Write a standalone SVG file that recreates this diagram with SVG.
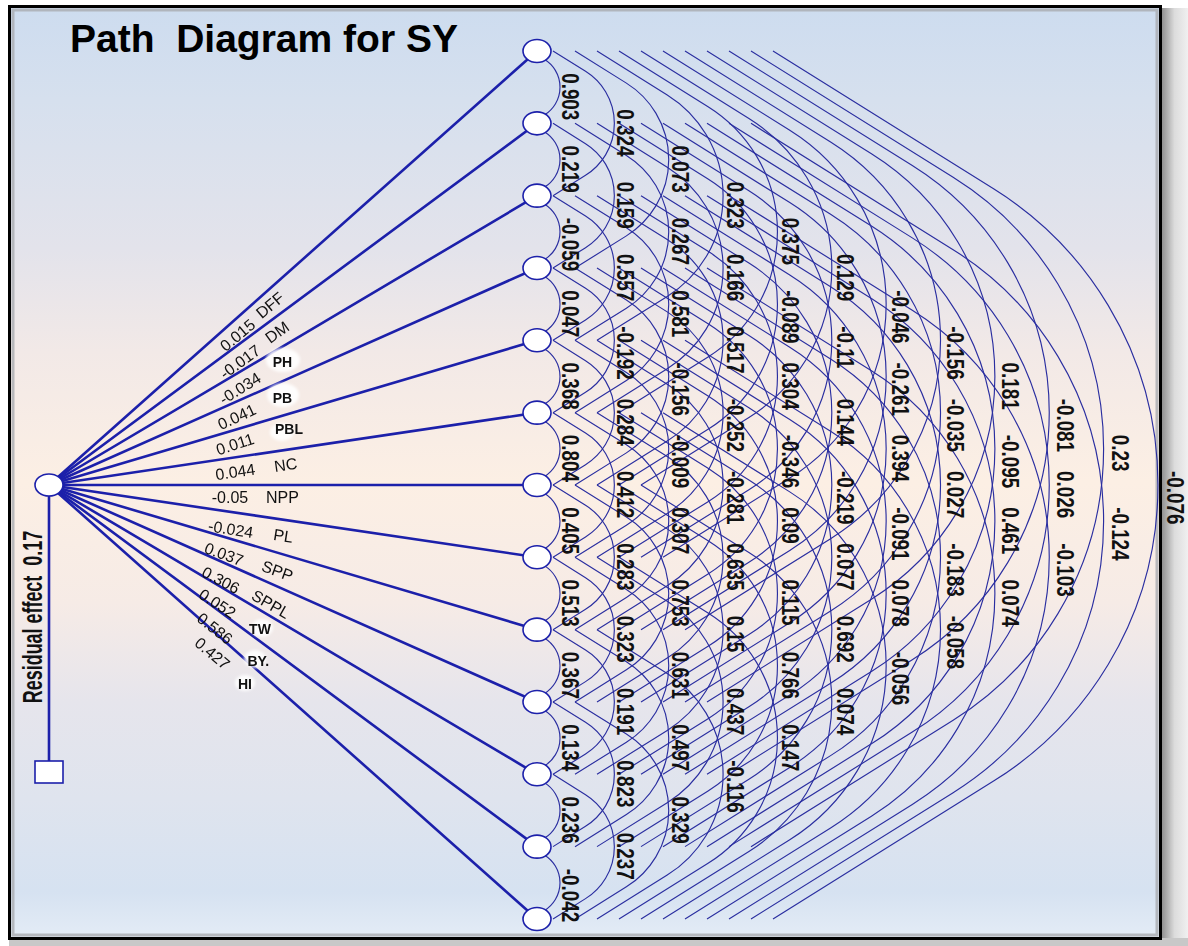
<svg xmlns="http://www.w3.org/2000/svg" xmlns:xlink="http://www.w3.org/1999/xlink" width="1188" height="946" viewBox="0 0 1188 946">
<defs>
<linearGradient id="bg" x1="0" y1="0" x2="0" y2="1">
<stop offset="0" stop-color="#cddcef"/>
<stop offset="0.1" stop-color="#d6e0ee"/>
<stop offset="0.26" stop-color="#e3e3eb"/>
<stop offset="0.37" stop-color="#f2e9e7"/>
<stop offset="0.51" stop-color="#fcefe4"/>
<stop offset="0.64" stop-color="#f6ebe6"/>
<stop offset="0.745" stop-color="#e6e5ec"/>
<stop offset="0.85" stop-color="#dfe4ee"/>
<stop offset="0.95" stop-color="#d6e2f1"/>
<stop offset="1" stop-color="#e4ecf6"/>
</linearGradient>
<linearGradient id="shadowR" x1="0" y1="0" x2="1" y2="0">
<stop offset="0" stop-color="#8c8c8c"/>
<stop offset="0.5" stop-color="#dcdcdc"/>
<stop offset="1" stop-color="#f0f0f0"/>
</linearGradient>
<filter id="soft" x="-30%" y="-30%" width="160%" height="160%"><feGaussianBlur stdDeviation="1.6"/></filter>
<style>
.pl{stroke:#1c20aa;stroke-width:2.6;fill:none;stroke-linecap:round}
.arc{stroke:#2a2ea0;stroke-width:1.15;fill:none}
.nd{fill:#ffffff;stroke:#1c20aa;stroke-width:1.6}
.c{font-family:"Liberation Sans",Arial,sans-serif;font-size:23px;font-weight:bold;fill:#111}
.v{font-family:"Liberation Sans",Arial,sans-serif;font-size:16px;fill:#111;text-anchor:middle}
.b{font-family:"Liberation Sans",Arial,sans-serif;font-size:14px;font-weight:bold;fill:#111;text-anchor:middle}
.blob{fill:#ffffff;opacity:0.9}
</style>
<path id="a1" d="M531,-36.17 L544.70,-27.60 A32.55,32.55 0 0 1 544.70,27.60 L531,36.17"/>
<path id="a2" d="M553,-72.33 L585.54,-51.99 A61.31,61.31 0 0 1 585.54,51.99 L553,72.33"/>
<path id="a3" d="M575,-108.50 L626.39,-76.38 A90.07,90.07 0 0 1 626.39,76.38 L575,108.50"/>
<path id="a4" d="M597,-144.66 L667.23,-100.77 A118.83,118.83 0 0 1 667.23,100.77 L597,144.66"/>
<path id="a5" d="M619,-180.83 L708.07,-125.16 A147.59,147.59 0 0 1 708.07,125.16 L619,180.83"/>
<path id="a6" d="M641,-216.99 L748.92,-149.54 A176.35,176.35 0 0 1 748.92,149.54 L641,216.99"/>
<path id="a7" d="M663,-253.16 L789.76,-173.93 A205.11,205.11 0 0 1 789.76,173.93 L663,253.16"/>
<path id="a8" d="M685,-289.32 L830.60,-198.32 A233.87,233.87 0 0 1 830.60,198.32 L685,289.32"/>
<path id="a9" d="M707,-325.49 L871.44,-222.71 A262.63,262.63 0 0 1 871.44,222.71 L707,325.49"/>
<path id="a10" d="M729,-361.65 L912.29,-247.10 A291.39,291.39 0 0 1 912.29,247.10 L729,361.65"/>
<path id="a11" d="M751,-397.82 L953.13,-271.49 A320.15,320.15 0 0 1 953.13,271.49 L751,397.82"/>
<path id="a12" d="M773,-433.98 L993.97,-295.88 A348.91,348.91 0 0 1 993.97,295.88 L773,433.98"/>
</defs>

<g id="background">
<rect x="0" y="0" width="1188" height="946" fill="#ffffff"/>
<rect x="1161" y="8" width="27" height="938" fill="url(#shadowR)"/>
<rect x="9" y="938" width="1179" height="8" fill="#c8c8c8"/>
<rect x="9.5" y="6.5" width="1151" height="932" fill="url(#bg)" stroke="#000" stroke-width="3"/>
<rect x="13" y="10" width="1144" height="925" fill="none" stroke="#a9abb0" stroke-width="3" opacity="0.8"/>
</g>

<text x="70" y="52" xml:space="preserve" font-family="'Liberation Sans', Arial, sans-serif" font-size="39" font-weight="bold" fill="#000">Path  Diagram for SY</text>

<g id="connectors">
<g id="path-lines">
<line class="pl" x1="49" y1="485" x2="537" y2="51"/>
<line class="pl" x1="49" y1="485" x2="537" y2="123.33"/>
<line class="pl" x1="49" y1="485" x2="537" y2="195.66"/>
<line class="pl" x1="49" y1="485" x2="537" y2="267.99"/>
<line class="pl" x1="49" y1="485" x2="537" y2="340.32"/>
<line class="pl" x1="49" y1="485" x2="537" y2="412.65"/>
<line class="pl" x1="49" y1="485" x2="537" y2="484.98"/>
<line class="pl" x1="49" y1="485" x2="537" y2="557.31"/>
<line class="pl" x1="49" y1="485" x2="537" y2="629.64"/>
<line class="pl" x1="49" y1="485" x2="537" y2="701.97"/>
<line class="pl" x1="49" y1="485" x2="537" y2="774.30"/>
<line class="pl" x1="49" y1="485" x2="537" y2="846.63"/>
<line class="pl" x1="49" y1="485" x2="537" y2="918.96"/>
<line class="pl" x1="49" y1="485" x2="49" y2="761"/>
</g>
<g id="correlation-arcs" class="arc">
<use href="#a1" y="87.17"/><use href="#a1" y="159.50"/><use href="#a1" y="231.83"/><use href="#a1" y="304.16"/><use href="#a1" y="376.49"/><use href="#a1" y="448.82"/><use href="#a1" y="521.15"/><use href="#a1" y="593.48"/><use href="#a1" y="665.81"/><use href="#a1" y="738.14"/><use href="#a1" y="810.47"/><use href="#a1" y="882.80"/>
<use href="#a2" y="123.33"/><use href="#a2" y="195.66"/><use href="#a2" y="267.99"/><use href="#a2" y="340.32"/><use href="#a2" y="412.65"/><use href="#a2" y="484.98"/><use href="#a2" y="557.31"/><use href="#a2" y="629.64"/><use href="#a2" y="701.97"/><use href="#a2" y="774.30"/><use href="#a2" y="846.63"/>
<use href="#a3" y="159.50"/><use href="#a3" y="231.83"/><use href="#a3" y="304.16"/><use href="#a3" y="376.49"/><use href="#a3" y="448.82"/><use href="#a3" y="521.15"/><use href="#a3" y="593.48"/><use href="#a3" y="665.81"/><use href="#a3" y="738.14"/><use href="#a3" y="810.47"/>
<use href="#a4" y="195.66"/><use href="#a4" y="267.99"/><use href="#a4" y="340.32"/><use href="#a4" y="412.65"/><use href="#a4" y="484.98"/><use href="#a4" y="557.31"/><use href="#a4" y="629.64"/><use href="#a4" y="701.97"/><use href="#a4" y="774.30"/>
<use href="#a5" y="231.83"/><use href="#a5" y="304.16"/><use href="#a5" y="376.49"/><use href="#a5" y="448.82"/><use href="#a5" y="521.15"/><use href="#a5" y="593.48"/><use href="#a5" y="665.81"/><use href="#a5" y="738.14"/>
<use href="#a6" y="267.99"/><use href="#a6" y="340.32"/><use href="#a6" y="412.65"/><use href="#a6" y="484.98"/><use href="#a6" y="557.31"/><use href="#a6" y="629.64"/><use href="#a6" y="701.97"/>
<use href="#a7" y="304.16"/><use href="#a7" y="376.49"/><use href="#a7" y="448.82"/><use href="#a7" y="521.15"/><use href="#a7" y="593.48"/><use href="#a7" y="665.81"/>
<use href="#a8" y="340.32"/><use href="#a8" y="412.65"/><use href="#a8" y="484.98"/><use href="#a8" y="557.31"/><use href="#a8" y="629.64"/>
<use href="#a9" y="376.49"/><use href="#a9" y="448.82"/><use href="#a9" y="521.15"/><use href="#a9" y="593.48"/>
<use href="#a10" y="412.65"/><use href="#a10" y="484.98"/><use href="#a10" y="557.31"/>
<use href="#a11" y="448.82"/><use href="#a11" y="521.15"/>
<use href="#a12" y="484.98"/>
</g>
</g>

<g id="node-SY"><ellipse class="nd" cx="49" cy="485" rx="14" ry="11"/></g>
<g id="node-residual"><rect class="nd" x="35" y="761" width="28" height="22" stroke-width="2"/></g>
<g id="node-DFF"><ellipse class="nd" cx="537" cy="51" rx="14" ry="11.5"/></g>
<g id="node-DM"><ellipse class="nd" cx="537" cy="123.33" rx="14" ry="11.5"/></g>
<g id="node-PH"><ellipse class="nd" cx="537" cy="195.66" rx="14" ry="11.5"/></g>
<g id="node-PB"><ellipse class="nd" cx="537" cy="267.99" rx="14" ry="11.5"/></g>
<g id="node-PBL"><ellipse class="nd" cx="537" cy="340.32" rx="14" ry="11.5"/></g>
<g id="node-NC"><ellipse class="nd" cx="537" cy="412.65" rx="14" ry="11.5"/></g>
<g id="node-NPP"><ellipse class="nd" cx="537" cy="484.98" rx="14" ry="11.5"/></g>
<g id="node-PL"><ellipse class="nd" cx="537" cy="557.31" rx="14" ry="11.5"/></g>
<g id="node-SPP"><ellipse class="nd" cx="537" cy="629.64" rx="14" ry="11.5"/></g>
<g id="node-SPPL"><ellipse class="nd" cx="537" cy="701.97" rx="14" ry="11.5"/></g>
<g id="node-TW"><ellipse class="nd" cx="537" cy="774.30" rx="14" ry="11.5"/></g>
<g id="node-BY"><ellipse class="nd" cx="537" cy="846.63" rx="14" ry="11.5"/></g>
<g id="node-HI"><ellipse class="nd" cx="537" cy="918.96" rx="14" ry="11.5"/></g>

<text transform="translate(42,617) rotate(-90) scale(0.64,1)" text-anchor="middle" xml:space="preserve" font-family="'Liberation Sans', Arial, sans-serif" font-size="28" font-weight="bold" fill="#111">Residual effect  0.17</text>

<g id="path-labels">
<g filter="url(#soft)">
<ellipse class="blob" cx="283" cy="360" rx="17" ry="12"/>
<ellipse class="blob" cx="283" cy="395" rx="16" ry="12"/>
<ellipse class="blob" cx="282" cy="432" rx="12" ry="9"/>
<ellipse class="blob" cx="262" cy="628" rx="11" ry="9"/>
<ellipse class="blob" cx="255" cy="659" rx="11" ry="9"/>
<ellipse class="blob" cx="245" cy="683" rx="10" ry="8"/>
</g>
<text class="v" transform="translate(237.5,335) rotate(-40)" y="5.7">0.015</text>
<text class="v" transform="translate(270,305) rotate(-40)" y="5.7">DFF</text>
<text class="v" transform="translate(240,361.7) rotate(-36)" y="5.7">-0.017</text>
<text class="v" transform="translate(277,332) rotate(-36)" y="5.7">DM</text>
<text class="v" transform="translate(240,388.3) rotate(-32)" y="5.7">-0.034</text>
<text class="b" x="282.5" y="367.3">PH</text>
<text class="v" transform="translate(236.7,416.7) rotate(-25)" y="5.7">0.041</text>
<text class="b" x="282.5" y="403.3">PB</text>
<text class="v" transform="translate(235,444) rotate(-18)" y="5.7">0.011</text>
<text class="b" x="289" y="434.3">PBL</text>
<text class="v" transform="translate(235.3,471.7) rotate(-8)" y="5.7">0.044</text>
<text class="v" transform="translate(285.7,464.7) rotate(-8)" y="5.7">NC</text>
<text class="v" transform="translate(230,497.7)" y="5.7">-0.05</text>
<text class="v" transform="translate(282.5,497.7)" y="5.7">NPP</text>
<text class="v" transform="translate(230.7,529) rotate(9)" y="5.7">-0.024</text>
<text class="v" transform="translate(283.3,535.7) rotate(9)" y="5.7">PL</text>
<text class="v" transform="translate(224,554) rotate(20)" y="5.7">0.037</text>
<text class="v" transform="translate(277.5,570.7) rotate(20)" y="5.7">SPP</text>
<text class="v" transform="translate(220.8,580) rotate(28)" y="5.7">0.306</text>
<text class="v" transform="translate(270.8,604) rotate(30)" y="5.7">SPPL</text>
<text class="v" transform="translate(217.5,603.3) rotate(33)" y="5.7">0.052</text>
<text class="b" x="260" y="634">TW</text>
<text class="v" transform="translate(215,628.3) rotate(38)" y="5.7">0.586</text>
<text class="b" x="258.3" y="665.7">BY.</text>
<text class="v" transform="translate(212.5,653.3) rotate(40)" y="5.7">0.427</text>
<text class="b" x="245" y="689">HI</text>
</g>

<g id="correlation-labels">
<text class="c" transform="translate(562,73.17) rotate(90) scale(0.82,1)">0.903</text>
<text class="c" transform="translate(562,145.50) rotate(90) scale(0.82,1)">0.219</text>
<text class="c" transform="translate(562,217.83) rotate(90) scale(0.82,1)">-0.059</text>
<text class="c" transform="translate(562,290.16) rotate(90) scale(0.82,1)">0.047</text>
<text class="c" transform="translate(562,362.49) rotate(90) scale(0.82,1)">0.368</text>
<text class="c" transform="translate(562,434.82) rotate(90) scale(0.82,1)">0.804</text>
<text class="c" transform="translate(562,507.15) rotate(90) scale(0.82,1)">0.405</text>
<text class="c" transform="translate(562,579.48) rotate(90) scale(0.82,1)">0.513</text>
<text class="c" transform="translate(562,651.81) rotate(90) scale(0.82,1)">0.367</text>
<text class="c" transform="translate(562,724.14) rotate(90) scale(0.82,1)">0.134</text>
<text class="c" transform="translate(562,796.47) rotate(90) scale(0.82,1)">0.236</text>
<text class="c" transform="translate(562,868.80) rotate(90) scale(0.82,1)">-0.042</text>

<text class="c" transform="translate(617,109.33) rotate(90) scale(0.82,1)">0.324</text>
<text class="c" transform="translate(617,181.66) rotate(90) scale(0.82,1)">0.159</text>
<text class="c" transform="translate(617,253.99) rotate(90) scale(0.82,1)">0.557</text>
<text class="c" transform="translate(617,326.32) rotate(90) scale(0.82,1)">-0.192</text>
<text class="c" transform="translate(617,398.65) rotate(90) scale(0.82,1)">0.284</text>
<text class="c" transform="translate(617,470.98) rotate(90) scale(0.82,1)">0.412</text>
<text class="c" transform="translate(617,543.31) rotate(90) scale(0.82,1)">0.283</text>
<text class="c" transform="translate(617,615.64) rotate(90) scale(0.82,1)">0.323</text>
<text class="c" transform="translate(617,687.97) rotate(90) scale(0.82,1)">0.191</text>
<text class="c" transform="translate(617,760.30) rotate(90) scale(0.82,1)">0.823</text>
<text class="c" transform="translate(617,832.63) rotate(90) scale(0.82,1)">0.237</text>

<text class="c" transform="translate(672,145.50) rotate(90) scale(0.82,1)">0.073</text>
<text class="c" transform="translate(672,217.83) rotate(90) scale(0.82,1)">0.267</text>
<text class="c" transform="translate(672,290.16) rotate(90) scale(0.82,1)">0.581</text>
<text class="c" transform="translate(672,362.49) rotate(90) scale(0.82,1)">-0.156</text>
<text class="c" transform="translate(672,434.82) rotate(90) scale(0.82,1)">-0.009</text>
<text class="c" transform="translate(672,507.15) rotate(90) scale(0.82,1)">0.307</text>
<text class="c" transform="translate(672,579.48) rotate(90) scale(0.82,1)">0.753</text>
<text class="c" transform="translate(672,651.81) rotate(90) scale(0.82,1)">0.631</text>
<text class="c" transform="translate(672,724.14) rotate(90) scale(0.82,1)">0.497</text>
<text class="c" transform="translate(672,796.47) rotate(90) scale(0.82,1)">0.329</text>

<text class="c" transform="translate(727,181.66) rotate(90) scale(0.82,1)">0.323</text>
<text class="c" transform="translate(727,253.99) rotate(90) scale(0.82,1)">0.166</text>
<text class="c" transform="translate(727,326.32) rotate(90) scale(0.82,1)">0.517</text>
<text class="c" transform="translate(727,398.65) rotate(90) scale(0.82,1)">-0.252</text>
<text class="c" transform="translate(727,470.98) rotate(90) scale(0.82,1)">-0.281</text>
<text class="c" transform="translate(727,543.31) rotate(90) scale(0.82,1)">0.635</text>
<text class="c" transform="translate(727,615.64) rotate(90) scale(0.82,1)">0.15</text>
<text class="c" transform="translate(727,687.97) rotate(90) scale(0.82,1)">0.437</text>
<text class="c" transform="translate(727,760.30) rotate(90) scale(0.82,1)">-0.116</text>

<text class="c" transform="translate(782,217.83) rotate(90) scale(0.82,1)">0.375</text>
<text class="c" transform="translate(782,290.16) rotate(90) scale(0.82,1)">-0.089</text>
<text class="c" transform="translate(782,362.49) rotate(90) scale(0.82,1)">0.304</text>
<text class="c" transform="translate(782,434.82) rotate(90) scale(0.82,1)">-0.346</text>
<text class="c" transform="translate(782,507.15) rotate(90) scale(0.82,1)">0.09</text>
<text class="c" transform="translate(782,579.48) rotate(90) scale(0.82,1)">0.115</text>
<text class="c" transform="translate(782,651.81) rotate(90) scale(0.82,1)">0.766</text>
<text class="c" transform="translate(782,724.14) rotate(90) scale(0.82,1)">0.147</text>

<text class="c" transform="translate(837,253.99) rotate(90) scale(0.82,1)">0.129</text>
<text class="c" transform="translate(837,326.32) rotate(90) scale(0.82,1)">-0.11</text>
<text class="c" transform="translate(837,398.65) rotate(90) scale(0.82,1)">0.144</text>
<text class="c" transform="translate(837,470.98) rotate(90) scale(0.82,1)">-0.219</text>
<text class="c" transform="translate(837,543.31) rotate(90) scale(0.82,1)">0.077</text>
<text class="c" transform="translate(837,615.64) rotate(90) scale(0.82,1)">0.692</text>
<text class="c" transform="translate(837,687.97) rotate(90) scale(0.82,1)">0.074</text>

<text class="c" transform="translate(892,290.16) rotate(90) scale(0.82,1)">-0.046</text>
<text class="c" transform="translate(892,362.49) rotate(90) scale(0.82,1)">-0.261</text>
<text class="c" transform="translate(892,434.82) rotate(90) scale(0.82,1)">0.394</text>
<text class="c" transform="translate(892,507.15) rotate(90) scale(0.82,1)">-0.091</text>
<text class="c" transform="translate(892,579.48) rotate(90) scale(0.82,1)">0.078</text>
<text class="c" transform="translate(892,651.81) rotate(90) scale(0.82,1)">-0.056</text>

<text class="c" transform="translate(947,326.32) rotate(90) scale(0.82,1)">-0.156</text>
<text class="c" transform="translate(947,398.65) rotate(90) scale(0.82,1)">-0.035</text>
<text class="c" transform="translate(947,470.98) rotate(90) scale(0.82,1)">0.027</text>
<text class="c" transform="translate(947,543.31) rotate(90) scale(0.82,1)">-0.183</text>
<text class="c" transform="translate(947,615.64) rotate(90) scale(0.82,1)">-0.058</text>

<text class="c" transform="translate(1002,362.49) rotate(90) scale(0.82,1)">0.181</text>
<text class="c" transform="translate(1002,434.82) rotate(90) scale(0.82,1)">-0.095</text>
<text class="c" transform="translate(1002,507.15) rotate(90) scale(0.82,1)">0.461</text>
<text class="c" transform="translate(1002,579.48) rotate(90) scale(0.82,1)">0.074</text>

<text class="c" transform="translate(1057,398.65) rotate(90) scale(0.82,1)">-0.081</text>
<text class="c" transform="translate(1057,470.98) rotate(90) scale(0.82,1)">0.026</text>
<text class="c" transform="translate(1057,543.31) rotate(90) scale(0.82,1)">-0.103</text>

<text class="c" transform="translate(1112,434.82) rotate(90) scale(0.82,1)">0.23</text>
<text class="c" transform="translate(1112,507.15) rotate(90) scale(0.82,1)">-0.124</text>

<text class="c" transform="translate(1167,470.98) rotate(90) scale(0.82,1)">-0.076</text>
</g>
</svg>
